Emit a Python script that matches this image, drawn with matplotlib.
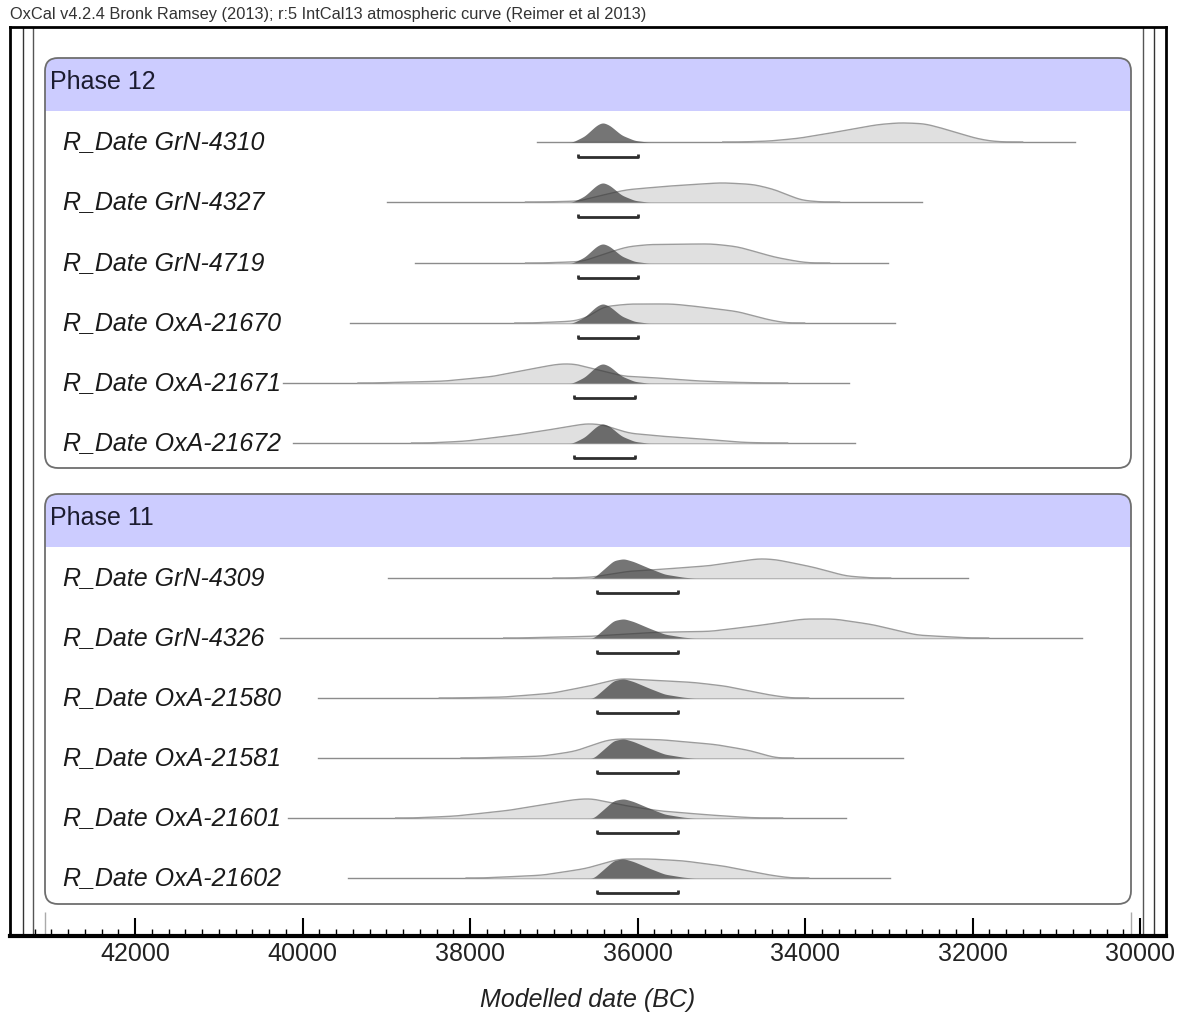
import numpy as np
import matplotlib.pyplot as plt
from matplotlib.patches import FancyBboxPatch, Rectangle

plt.rcParams['font.family'] = ['Liberation Sans', 'DejaVu Sans']

# ---- data (years BC, relative heights) ----
phase12_names = ['GrN-4310', 'GrN-4327', 'GrN-4719', 'OxA-21670', 'OxA-21671', 'OxA-21672']
phase12_like = [
    [(34776, 0), (34418, .05), (34060, .2), (33582, .55), (33140, .9), (32866, 1), (32567, .95),
     (32269, .6), (31970, .2), (31791, .05), (31612, 0)],
    [(37129, 0), (36687, .05), (36376, .4), (36126, .64), (35552, .85), (34992, 1), (34609, .91),
     (34359, .64), (34048, .09), (33798, 0)],
    [(37129, 0), (36651, .08), (36376, .5), (36126, .85), (35851, .97), (35111, 1), (34801, .85),
     (34359, .3), (34048, .05), (33917, 0)],
    [(37260, 0), (36747, .1), (36568, .35), (36424, .85), (36102, 1), (35576, 1), (35254, .85),
     (34801, .6), (34418, .15), (34215, 0)],
    [(39135, 0), (38299, .1), (37714, .35), (37129, .85), (36937, 1), (36747, 1), (36579, .8),
     (36161, .35), (35708, .25), (35254, .1), (34801, .03), (34418, 0)],
    [(38490, 0), (38036, .1), (37391, .45), (36878, .8), (36615, 1), (36424, .95), (36102, .5),
     (35576, .3), (35063, .15), (34741, .03), (34418, 0)],
]
phase12_post = [(36770, 0), (36627, .3), (36484, .85), (36412, 1), (36329, .85), (36186, .35),
                (36030, .08), (35875, 0)]
phase12_span = [(37200, 30776), (38991, 32603), (38657, 33009), (39433, 32925), (40233, 33475), (40114, 33403)]
phase12_range = [(36711, 35994), (36711, 35994), (36711, 35994), (36711, 35994), (36759, 36030), (36759, 36030)]

phase11_names = ['GrN-4309', 'GrN-4326', 'OxA-21580', 'OxA-21581', 'OxA-21601', 'OxA-21602']
phase11_like = [
    [(36806, 0), (36520, .05), (36102, .35), (35708, .45), (35123, .64), (34550, 1), (34347, .95),
     (33893, .55), (33511, .1), (33188, 0)],
    [(37391, 0), (36484, .1), (35779, .3), (35123, .35), (34478, .7), (34024, 1), (33643, 1),
     (33188, .7), (32663, .15), (32018, 0)],
    [(38167, 0), (37582, .05), (37009, .25), (36484, .7), (36221, 1), (35970, .95), (35326, .8),
     (34932, .6), (34418, .15), (34167, 0)],
    [(37905, 0), (37129, .1), (36747, .35), (36352, .95), (36161, 1), (35708, .95), (35063, .7),
     (34669, .4), (34347, 0)],
    [(38681, 0), (38167, .1), (37523, .4), (36747, .95), (36555, 1), (36102, .6), (35708, .35),
     (35123, .15), (34669, .02), (34478, 0)],
    [(37845, 0), (37129, .15), (36615, .5), (36221, 1), (35839, 1), (35445, .9), (34932, .6),
     (34418, .15), (34167, 0)],
]
phase11_post = [(36520, 0), (36400, .45), (36281, .9), (36161, 1), (36042, .85), (35851, .5),
                (35672, .2), (35445, .04), (35326, 0)]
phase11_span = [(38979, 32054), (40269, 30693), (39815, 32830), (39815, 32830), (40173, 33511), (39457, 32985)]
phase11_range = [(36484, 35517)] * 6

major_ticks = [42000, 40000, 38000, 36000, 34000, 32000, 30000]

# ---- layout (pixel rows) ----
W, Hpx = 1182, 1016
rows12 = [142, 202, 263, 323, 383, 443]
rows11 = [578, 638, 698, 758, 818, 878]
PEAK = 19

fig = plt.figure(figsize=(W / 100, Hpx / 100), dpi=100)

# background layer in pixel coordinates: phase boxes and labels
bg = fig.add_axes([0, 0, 1, 1], zorder=1)
bg.set_xlim(0, W)
bg.set_ylim(Hpx, 0)
bg.axis('off')

# data layer: x in years BC (reversed), y in pixel rows
ax = fig.add_axes([10 / W, 80 / Hpx, 1156 / W, 909 / Hpx], zorder=2)
ax.set_facecolor('none')
ax.set_xlim(43493, 29690)
ax.set_ylim(936, 27)


def smooth(pts, width):
    # round off the corners of the read-off outline for drawing
    x, h = np.array(pts, dtype=float).T
    order = np.argsort(x)
    x, h = x[order], h[order]
    grid = np.arange(x[0] - 3 * width, x[-1] + 3 * width, 10.0)
    yy = np.interp(grid, x, h, left=0, right=0)
    k = np.arange(-3 * width, 3 * width + 1, 10.0)
    ker = np.exp(-0.5 * (k / width) ** 2)
    ker /= ker.sum()
    yy = np.convolve(yy, ker, mode='same')
    yy /= yy.max()
    return grid, yy


def phase_box(top, bottom, title):
    box = FancyBboxPatch((45, top), 1086, bottom - top,
                         boxstyle='round,pad=0,rounding_size=13',
                         fc='none', ec='#6e6e6e', lw=1.3, zorder=3)
    bg.add_patch(box)
    head = Rectangle((45, top), 1086, 53, fc='#ccccff', ec='none', zorder=2)
    bg.add_patch(head)
    head.set_clip_path(box)
    bg.text(50, top + 24, title, fontsize=18, color='#1c1c30', va='center', ha='left', zorder=4)


def draw_row(y0, name, like, post, span, rng):
    bg.text(63, y0, 'R_Date ' + name, fontsize=18, style='italic', color='#1a1a1a',
            va='center', ha='left', zorder=4)
    ax.plot(span, [y0, y0], color='#8c8c8c', lw=1, zorder=2)
    lx, lh = smooth(like, 70)
    ax.fill_between(lx, y0, y0 - lh * PEAK, color='#e0e0e0', lw=0, zorder=3)
    ax.plot(lx, y0 - lh * PEAK, color='#9c9c9c', lw=1, zorder=4)
    px, ph = smooth(post, 25)
    ax.fill_between(px, y0, y0 - ph * PEAK, color='#3a3a3a', alpha=0.7, lw=0, zorder=5)
    ax.plot([rng[0], rng[0], rng[1], rng[1]], [y0 + 12, y0 + 15, y0 + 15, y0 + 12],
            color='#2e2e2e', lw=2, zorder=5, solid_capstyle='butt')


phase_box(58, 468, 'Phase 12')
phase_box(494, 904, 'Phase 11')

for y0, n, lk, sp, rg in zip(rows12, phase12_names, phase12_like, phase12_span, phase12_range):
    draw_row(y0, n, lk, phase12_post, sp, rg)
for y0, n, lk, sp, rg in zip(rows11, phase11_names, phase11_like, phase11_span, phase11_range):
    draw_row(y0, n, lk, phase11_post, sp, rg)

# frame lines
for xv, c in [(43337, '#333333'), (43218, '#555555'), (29965, '#555555'), (29833, '#333333')]:
    ax.axvline(xv, color=c, lw=1, zorder=1)
ax.vlines([43075, 30108], 912, 936, color='#aaaaaa', lw=1)

for s in ax.spines.values():
    s.set_color('black')
    s.set_linewidth(2)
ax.spines['bottom'].set_linewidth(3)

ax.set_yticks([])
ax.set_xticks(major_ticks)
ax.set_xticklabels([str(t) for t in major_ticks])
ax.set_xticks(np.arange(30000, 43400, 200), minor=True)
ax.tick_params(axis='x', which='major', direction='in', length=13, width=1.5,
               labelsize=18, pad=4, colors='black')
ax.tick_params(axis='x', which='minor', direction='in', length=5, width=1)
for lab in ax.get_xticklabels():
    lab.set_color('#222222')
ax.set_xlabel('Modelled date (BC)', fontsize=18, style='italic', labelpad=16, color='#222222')

bg.text(10, 15, 'OxCal v4.2.4 Bronk Ramsey (2013); r:5 IntCal13 atmospheric curve (Reimer et al 2013)',
        fontsize=11.8, color='#333333', va='center', ha='left')

fig.savefig('out.png', dpi=100)
